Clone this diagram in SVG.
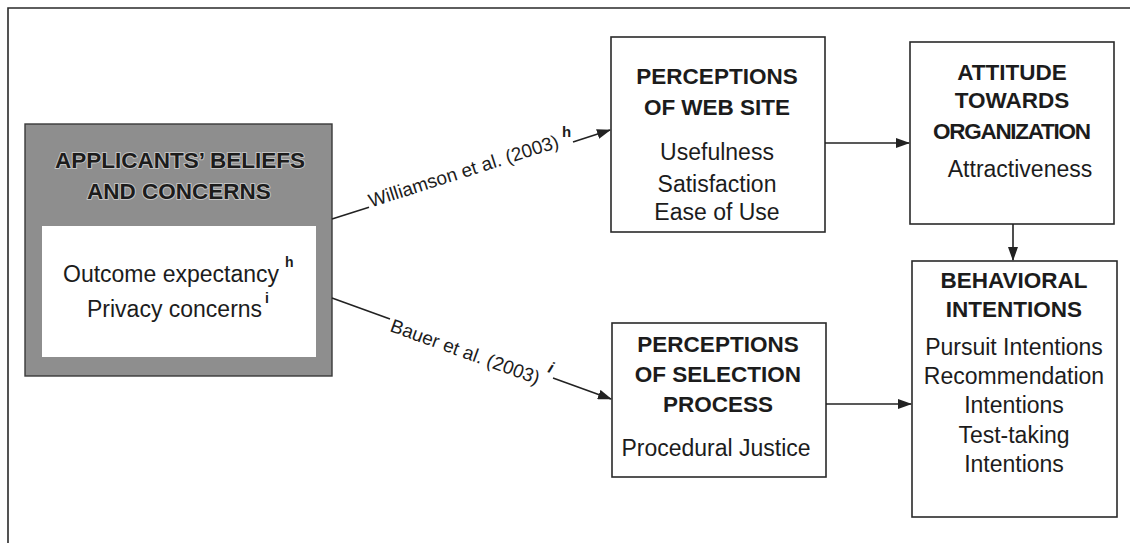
<svg xmlns="http://www.w3.org/2000/svg" width="1130" height="543" viewBox="0 0 1130 543">
  <style>
    .box { fill: #ffffff; stroke: #2a2a2a; stroke-width: 1.6; }
    .head { font-family: "Liberation Sans", Arial, sans-serif; font-weight: bold; font-size: 22.5px; fill: #1c1c1c; text-anchor: middle; }
    .body { font-family: "Liberation Sans", Arial, sans-serif; font-size: 23px; fill: #1c1c1c; text-anchor: middle; }
    .lbl { font-family: "Liberation Sans", Arial, sans-serif; font-size: 19px; fill: #1c1c1c; }
    .sup { font-family: "Liberation Sans", Arial, sans-serif; font-weight: bold; font-size: 15px; fill: #1c1c1c; }
    .edge { stroke: #222222; stroke-width: 1.6; fill: none; }
    .emb { stroke: #c4c4c4; stroke-width: 2; paint-order: stroke; stroke-linejoin: round; }
  </style>
  <defs>
    <marker id="arrow" viewBox="0 0 14 10" refX="13" refY="5" markerWidth="14" markerHeight="10" markerUnits="userSpaceOnUse" orient="auto">
      <path d="M0,0 L14,5 L0,10 Z" fill="#222222"/>
    </marker>
  </defs>

  <rect width="1130" height="543" fill="#ffffff"/>

  <!-- outer frame (open to the right and bottom) -->
  <path d="M8,543 V8 H1130" stroke="#2a2a2a" stroke-width="1.6" fill="none"/>

  <!-- beliefs and concerns -->
  <g id="beliefs">
    <rect x="25" y="124" width="307" height="252" fill="#8e8e8e" stroke="#3a3a3a" stroke-width="1.4"/>
    <rect x="42" y="226" width="274" height="131" fill="#ffffff"/>
    <text class="head emb" x="180" y="168">APPLICANTS’ BELIEFS</text>
    <text class="head emb" x="179" y="199">AND CONCERNS</text>
    <text class="body" x="63" y="282" style="text-anchor:start">Outcome expectancy</text>
    <text class="sup" x="285" y="267" style="font-size:14px">h</text>
    <text class="body" x="87" y="317" style="text-anchor:start">Privacy concerns</text>
    <text class="sup" x="265" y="303" style="font-size:14px">i</text>
  </g>

  <!-- perceptions of web site -->
  <g id="web-site">
    <rect class="box" x="611" y="37" width="214" height="195"/>
    <text class="head" x="717" y="84">PERCEPTIONS</text>
    <text class="head" x="717" y="115">OF WEB SITE</text>
    <text class="body" x="717" y="160">Usefulness</text>
    <text class="body" x="717" y="192">Satisfaction</text>
    <text class="body" x="717" y="220">Ease of Use</text>
  </g>

  <!-- perceptions of selection process -->
  <g id="selection">
    <rect class="box" x="612" y="323" width="214" height="154"/>
    <text class="head" x="718" y="352">PERCEPTIONS</text>
    <text class="head" x="718" y="382">OF SELECTION</text>
    <text class="head" x="718" y="412">PROCESS</text>
    <text class="body" x="716" y="456">Procedural Justice</text>
  </g>

  <!-- attitude towards organization -->
  <g id="attitude">
    <rect class="box" x="910" y="42" width="204" height="182"/>
    <text class="head" x="1012" y="80">ATTITUDE</text>
    <text class="head" x="1012" y="108">TOWARDS</text>
    <text class="head" x="1012" y="139" textLength="158" lengthAdjust="spacing">ORGANIZATION</text>
    <text class="body" x="1020" y="177">Attractiveness</text>
  </g>

  <!-- behavioral intentions -->
  <g id="behavioral">
    <rect class="box" x="912" y="261" width="205" height="256"/>
    <text class="head" x="1014" y="288">BEHAVIORAL</text>
    <text class="head" x="1014" y="317">INTENTIONS</text>
    <text class="body" x="1014" y="355">Pursuit Intentions</text>
    <text class="body" x="1014" y="384">Recommendation</text>
    <text class="body" x="1014" y="413">Intentions</text>
    <text class="body" x="1014" y="443">Test-taking</text>
    <text class="body" x="1014" y="472">Intentions</text>
  </g>

  <!-- connectors -->
  <g id="connectors">
    <!-- beliefs to web site perceptions -->
    <line class="edge" x1="332" y1="219" x2="369" y2="207.3"/>
    <text class="lbl" transform="translate(371,207.5) rotate(-17.75)">Williamson et al. (2003)</text>
    <text class="sup" x="562" y="137">h</text>
    <line class="edge" x1="573" y1="142" x2="610" y2="130" marker-end="url(#arrow)"/>

    <!-- beliefs to selection perceptions -->
    <line class="edge" x1="332" y1="298" x2="390" y2="319"/>
    <text class="lbl" transform="translate(389,331) rotate(19.9)">Bauer et al. (2003)</text>
    <text class="sup" transform="translate(547,372) rotate(19.9)" style="font-style:italic;font-size:16px">i</text>
    <line class="edge" x1="553" y1="378" x2="611" y2="399" marker-end="url(#arrow)"/>

    <line class="edge" x1="825" y1="143" x2="909" y2="143" marker-end="url(#arrow)"/>
    <line class="edge" x1="1013" y1="224" x2="1013" y2="260" marker-end="url(#arrow)"/>
    <line class="edge" x1="826" y1="404" x2="911" y2="404" marker-end="url(#arrow)"/>
  </g>
</svg>
